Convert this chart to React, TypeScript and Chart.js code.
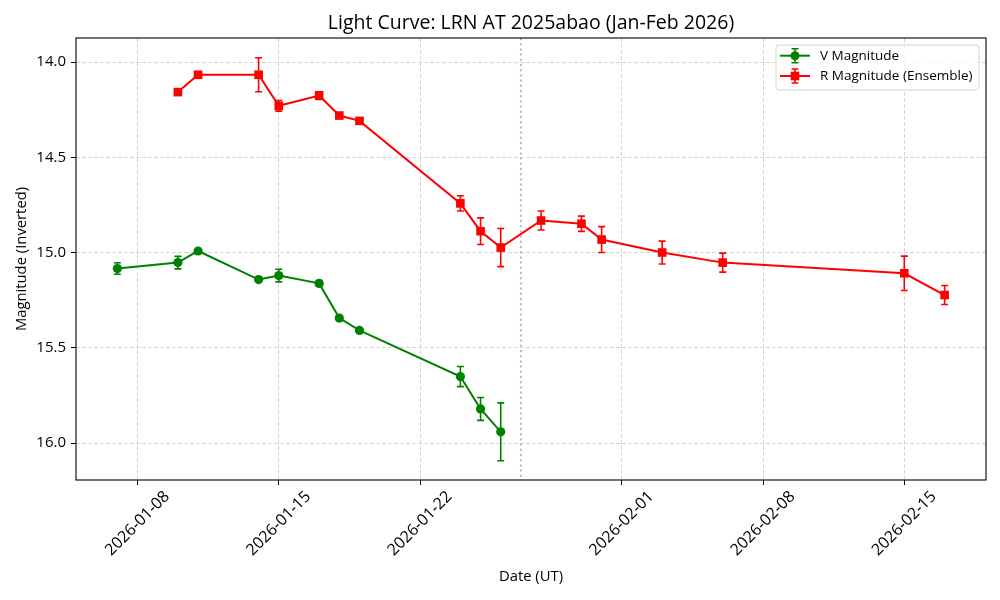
import React, { useEffect, useRef } from 'react';
import { Chart, registerables } from 'chart.js';

Chart.register(...registerables);

const FONT = '"Open Sans", "DejaVu Sans", sans-serif';

const TITLE = 'Light Curve: LRN AT 2025abao (Jan-Feb 2026)';
const X_LABEL = 'Date (UT)';
const Y_LABEL = 'Magnitude (Inverted)';

const V_LABEL = 'V Magnitude';
const V_DATES = ['2026-01-07', '2026-01-10', '2026-01-11', '2026-01-14', '2026-01-15', '2026-01-17', '2026-01-18', '2026-01-19', '2026-01-24', '2026-01-25', '2026-01-26'];
const V_MAG = [15.084, 15.053, 14.992, 15.142, 15.121, 15.162, 15.344, 15.409, 15.651, 15.821, 15.941];
const V_ERR = [0.03, 0.033, 0.008, 0.008, 0.033, 0.015, 0.012, 0.008, 0.053, 0.06, 0.152];

const R_LABEL = 'R Magnitude (Ensemble)';
const R_DATES = ['2026-01-10', '2026-01-11', '2026-01-14', '2026-01-15', '2026-01-17', '2026-01-18', '2026-01-19', '2026-01-24', '2026-01-25', '2026-01-26', '2026-01-28', '2026-01-30', '2026-01-31', '2026-02-03', '2026-02-06', '2026-02-15', '2026-02-17'];
const R_MAG = [14.158, 14.067, 14.067, 14.23, 14.176, 14.281, 14.309, 14.742, 14.888, 14.974, 14.832, 14.849, 14.932, 15.0, 15.053, 15.109, 15.223];
const R_ERR = [0.005, 0.008, 0.089, 0.028, 0.02, 0.01, 0.008, 0.04, 0.07, 0.1, 0.05, 0.04, 0.068, 0.06, 0.05, 0.09, 0.05];

const EVENT_DATE = '2026-01-27';

const X_TICKS = ['2026-01-08', '2026-01-15', '2026-01-22', '2026-02-01', '2026-02-08', '2026-02-15'];
const Y_TICKS = [14.0, 14.5, 15.0, 15.5, 16.0];

const X_MIN = '2026-01-04T22:48:00';
const X_MAX = '2026-02-19T01:12:00';
const Y_MIN = 13.874;
const Y_MAX = 16.194;

const V_COLOR = '#008000';
const R_COLOR = '#ff0000';

const toMs = (s: string) => Date.parse(s.length === 10 ? s + 'T00:00:00Z' : s + 'Z');

const CAP = 3.5;

function drawErrorBar(ctx: CanvasRenderingContext2D, x: number, y1: number, y2: number, color: string) {
  ctx.save();
  ctx.strokeStyle = color;
  ctx.lineWidth = 1.6;
  ctx.beginPath();
  ctx.moveTo(x, y1);
  ctx.lineTo(x, y2);
  ctx.moveTo(x - CAP, y1);
  ctx.lineTo(x + CAP, y1);
  ctx.moveTo(x - CAP, y2);
  ctx.lineTo(x + CAP, y2);
  ctx.stroke();
  ctx.restore();
}

const errorBarPlugin = {
  id: 'errorBars',
  beforeDatasetsDraw(chart: any) {
    const ctx = chart.ctx;
    const ys = chart.scales.y;
    const xs = chart.scales.x;
    const area = chart.chartArea;
    const ex = xs.getPixelForValue(toMs(EVENT_DATE));
    ctx.save();
    ctx.strokeStyle = 'rgba(128,128,128,0.55)';
    ctx.lineWidth = 2;
    ctx.setLineDash([2, 3.2]);
    ctx.beginPath();
    ctx.moveTo(ex, area.top);
    ctx.lineTo(ex, area.bottom);
    ctx.stroke();
    ctx.restore();
    chart.data.datasets.forEach((ds: any, i: number) => {
      const meta = chart.getDatasetMeta(i);
      meta.data.forEach((pt: any, j: number) => {
        const v = ds.data[j].y;
        const e = ds.errors[j];
        drawErrorBar(ctx, pt.x, ys.getPixelForValue(v - e), ys.getPixelForValue(v + e), ds.borderColor);
      });
    });
  },
  afterDatasetsDraw(chart: any) {
    const ctx = chart.ctx;
    const a = chart.chartArea;
    ctx.save();
    ctx.strokeStyle = '#000';
    ctx.lineWidth = 1.1;
    ctx.strokeRect(a.left, a.top, a.right - a.left, a.bottom - a.top);
    ctx.restore();
  },
  afterDraw(chart: any) {
    const ctx = chart.ctx;
    const a = chart.chartArea;
    const xs = chart.scales.x;
    const cx = (a.left + a.right) / 2;
    ctx.save();
    ctx.fillStyle = '#000';
    ctx.font = `19.5px ${FONT}`;
    ctx.textAlign = 'center';
    ctx.textBaseline = 'middle';
    ctx.fillText(TITLE, cx, 23);
    ctx.font = `14.8px ${FONT}`;
    ctx.fillText(X_LABEL, cx, 577);
    ctx.save();
    ctx.translate(22, (a.top + a.bottom) / 2);
    ctx.rotate(-Math.PI / 2);
    ctx.fillText(Y_LABEL, 0, 0);
    ctx.restore();
    ctx.font = `16px ${FONT}`;
    const c = Math.SQRT1_2;
    X_TICKS.forEach((lab) => {
      const px = xs.getPixelForValue(toMs(lab));
      const w = ctx.measureText(lab).width;
      const h = 11.5;
      const bh = (w + h) * c;
      ctx.save();
      ctx.translate(px, a.bottom + 10 + bh / 2);
      ctx.rotate(-Math.PI / 4);
      ctx.fillText(lab, 0, 0);
      ctx.restore();
    });
    const lx = 776, ly = 45, lw = 203, lh = 45;
    ctx.save();
    ctx.beginPath();
    const r = 3;
    ctx.moveTo(lx + r, ly);
    ctx.arcTo(lx + lw, ly, lx + lw, ly + lh, r);
    ctx.arcTo(lx + lw, ly + lh, lx, ly + lh, r);
    ctx.arcTo(lx, ly + lh, lx, ly, r);
    ctx.arcTo(lx, ly, lx + lw, ly, r);
    ctx.closePath();
    ctx.fillStyle = 'rgba(255,255,255,0.8)';
    ctx.fill();
    ctx.strokeStyle = '#d4d4d4';
    ctx.lineWidth = 1;
    ctx.stroke();
    ctx.restore();
    const entries = chart.data.datasets.map((ds: any) => ({ label: ds.label, color: ds.borderColor, style: ds.pointStyle }));
    entries.forEach((en: any, i: number) => {
      const y = 55.7 + i * 20.3;
      ctx.save();
      ctx.strokeStyle = en.color;
      ctx.lineWidth = 2;
      ctx.beginPath();
      ctx.moveTo(780, y);
      ctx.lineTo(810, y);
      ctx.stroke();
      ctx.restore();
      drawErrorBar(ctx, 795, y - 7, y + 7, en.color);
      ctx.save();
      ctx.fillStyle = en.color;
      if (en.style === 'rect') {
        ctx.fillRect(795 - 4.3, y - 4.3, 8.6, 8.6);
      } else {
        ctx.beginPath();
        ctx.arc(795, y, 4.5, 0, Math.PI * 2);
        ctx.fill();
      }
      ctx.restore();
      ctx.save();
      ctx.fillStyle = '#000';
      ctx.font = `13.5px ${FONT}`;
      ctx.textAlign = 'left';
      ctx.textBaseline = 'middle';
      ctx.fillText(en.label, 820, y + 0.5);
      ctx.restore();
    });
    ctx.restore();
  },
};

export default function App() {
  const ref = useRef<HTMLCanvasElement>(null);
  useEffect(() => {
    document.body.style.margin = '0';
    const canvas = ref.current!;
    const chart = new Chart(canvas, {
      type: 'line',
      data: {
        datasets: [
          {
            label: V_LABEL,
            data: V_DATES.map((d, i) => ({ x: toMs(d), y: V_MAG[i] })),
            errors: V_ERR,
            borderColor: V_COLOR,
            backgroundColor: V_COLOR,
            borderWidth: 2,
            pointStyle: 'circle',
            pointRadius: 4.6,
            pointBorderWidth: 0,
            tension: 0,
          } as any,
          {
            label: R_LABEL,
            data: R_DATES.map((d, i) => ({ x: toMs(d), y: R_MAG[i] })),
            errors: R_ERR,
            borderColor: R_COLOR,
            backgroundColor: R_COLOR,
            borderWidth: 2,
            pointStyle: 'rect',
            pointRadius: 6.1,
            pointBorderWidth: 0,
            tension: 0,
          } as any,
        ],
      },
      options: {
        animation: false,
        responsive: false,
        events: [],
        layout: { padding: { top: 38, right: 14, left: 0, bottom: 0 } },
        plugins: { legend: { display: false }, title: { display: false }, tooltip: { enabled: false } },
        scales: {
          x: {
            type: 'linear',
            min: toMs(X_MIN),
            max: toMs(X_MAX),
            afterBuildTicks: (s: any) => {
              s.ticks = X_TICKS.map((d) => ({ value: toMs(d) }));
            },
            afterFit: (s: any) => {
              s.height = 120;
            },
            ticks: { display: false },
            grid: {
              color: '#cccccc',
              lineWidth: 0.8,
              tickColor: '#000',
              tickLength: 5,
              tickWidth: 1,
              tickBorderDash: [],
            },
            border: { display: false, dash: [4, 2] },
          },
          y: {
            type: 'linear',
            reverse: true,
            min: Y_MIN,
            max: Y_MAX,
            afterBuildTicks: (s: any) => {
              s.ticks = Y_TICKS.map((v) => ({ value: v }));
            },
            afterFit: (s: any) => {
              s.width = 76;
            },
            ticks: {
              color: '#000',
              font: { family: FONT, size: 15 },
              padding: 5,
              callback: (v: any) => Number(v).toFixed(1),
            },
            grid: {
              color: '#cccccc',
              lineWidth: 0.8,
              tickColor: '#000',
              tickLength: 5,
              tickWidth: 1,
              tickBorderDash: [],
            },
            border: { display: false, dash: [4, 2] },
          },
        },
      } as any,
      plugins: [errorBarPlugin],
    });
    return () => chart.destroy();
  }, []);
  return (
    <div style={{ width: 1000, height: 600 }}>
      <canvas ref={ref} width={1000} height={600} style={{ display: 'block' }} />
    </div>
  );
}
